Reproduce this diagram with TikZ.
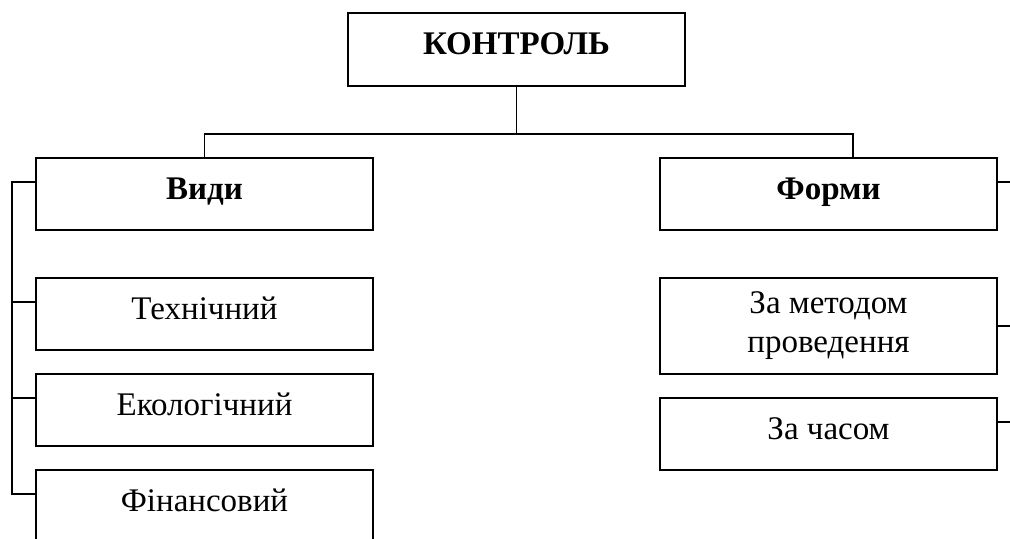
\documentclass[tikz,border=0pt]{standalone}
\usepackage{fontspec}
\setmainfont{Liberation Serif}
\begin{document}
\begin{tikzpicture}[x=0.5pt, y=-0.5pt, line width=0.9pt]
			\tikzstyle{Box} = [rectangle, draw, minimum width=168.5pt, minimum height=36pt, inner sep=0pt, font=\fontsize{16.5}{19.5}\selectfont, text height=12pt, text depth=6.8pt]
			\useasboundingbox (0,0) rectangle (1010,538);
			\clip (0,0) rectangle (1010,538);
			\node (control) at (516.5,49.5) [Box, minimum height=36.5pt, fill=white] {\bfseries КОНТРОЛЬ};
			\node (vydy) at (204.5,194) [Box, fill=white] {\bfseries Види};
			\node (formy) at (828.5,194) [Box, fill=white] {\bfseries Форми};
			\node (tech) at (204.5,314) [Box, fill=white] {Технічний};
			\node (eco) at (204.5,410) [Box, fill=white] {Екологічний};
			\node (fin) at (204.5,506) [Box, fill=white] {Фінансовий};
			\node (method) at (828.5,326) [Box, minimum height=48pt, align=center, text height=, text depth=, fill=white] {За методом\\проведення};
			\node (time) at (828.5,434) [Box, fill=white] {За часом};
			\coordinate (bus) at (516.5,134);
			\coordinate (ftop) at (853,158);
			\coordinate (lbus) at (12,0);
			\coordinate (rbus) at (1030,0);
			\draw [-] (control) to (bus);
			\draw [-] (vydy.north) |- (bus) -| (ftop);
			\draw [-] ([yshift=6pt]vydy.west) -- ([yshift=6pt]vydy.west -| lbus) -- ([yshift=6pt]fin.west -| lbus) -- ([yshift=6pt]fin.west);
			\draw [-] ([yshift=6pt]tech.west) to ([yshift=6pt]tech.west -| lbus);
			\draw [-] ([yshift=6pt]eco.west) to ([yshift=6pt]eco.west -| lbus);
			\draw [-] ([yshift=6pt]formy.east) to ([yshift=6pt]formy.east -| rbus);
			\draw [-] (method.east) to (method.east -| rbus);
			\draw [-] ([yshift=6pt]time.east) to ([yshift=6pt]time.east -| rbus);
		\end{tikzpicture}
\end{document}
